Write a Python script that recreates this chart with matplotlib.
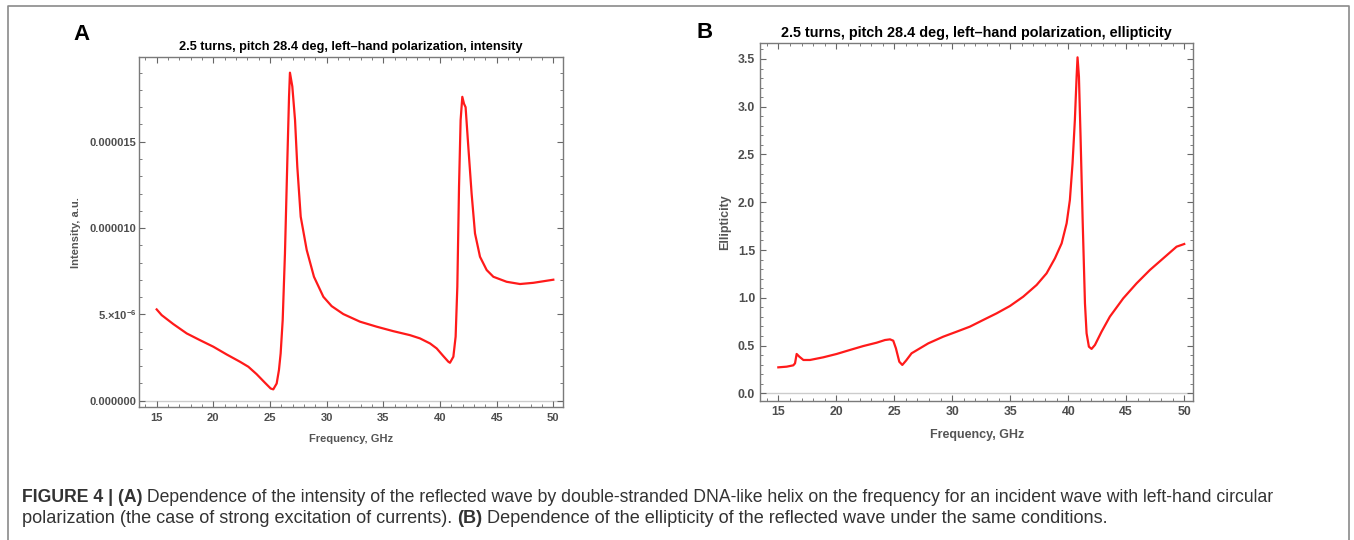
import matplotlib
matplotlib.use('Agg')
import matplotlib.pyplot as plt
from matplotlib.ticker import MultipleLocator, FixedLocator, FixedFormatter
from matplotlib.text import Annotation
from matplotlib.lines import Line2D

plt.rcParams['font.family'] = ['Liberation Sans', 'DejaVu Sans']
plt.rcParams['font.weight'] = 'bold'
plt.rcParams['axes.titleweight'] = 'bold'
plt.rcParams['axes.labelweight'] = 'bold'
plt.rcParams['mathtext.fontset'] = 'custom'
plt.rcParams['mathtext.rm'] = 'Liberation Sans:bold'
plt.rcParams['mathtext.default'] = 'rm'

# Panel A: intensity (units of 1e-6)
freq_a = [15.0, 15.44, 16.47, 17.65, 18.82, 20.0, 21.18, 22.35, 23.09, 23.82,
          24.56, 25.06, 25.29, 25.59, 25.79, 25.94, 26.12, 26.32, 26.53, 26.68,
          26.76, 26.97, 27.21, 27.41, 27.71, 28.24, 28.88, 29.71, 30.44, 31.47,
          32.94, 34.41, 35.88, 37.35, 38.24, 39.12, 39.71, 40.29, 40.74, 40.88,
          41.18, 41.38, 41.53, 41.68, 41.82, 41.97, 42.12, 42.26, 42.5, 42.79,
          43.09, 43.53, 44.12, 44.71, 45.88, 47.06, 48.24, 49.41, 50.0]
intensity_e6 = [5.29, 4.96, 4.44, 3.90, 3.51, 3.13, 2.68, 2.26, 1.97, 1.54,
                1.04, 0.71, 0.66, 1.00, 1.78, 2.74, 4.67, 8.53, 13.9, 17.6,
                19.0, 18.2, 16.25, 13.55, 10.66, 8.73, 7.18, 6.02, 5.48, 5.02,
                4.58, 4.29, 4.03, 3.80, 3.61, 3.32, 3.03, 2.59, 2.26, 2.20,
                2.55, 3.71, 6.60, 12.4, 16.25, 17.6, 17.2, 17.0, 14.7, 12.0,
                9.69, 8.34, 7.57, 7.18, 6.89, 6.76, 6.83, 6.95, 7.01]

# Panel B: ellipticity
freq_b = [15.0, 15.72, 16.29, 16.44, 16.58, 16.81, 17.16, 17.73, 18.88, 20.03,
          21.18, 22.33, 23.48, 24.2, 24.63, 24.91, 25.14, 25.43, 25.69, 26.01,
          26.49, 27.21, 27.93, 29.22, 30.37, 31.52, 32.67, 33.82, 34.97, 36.12,
          37.27, 38.13, 38.85, 39.43, 39.86, 40.14, 40.37, 40.57, 40.72, 40.80,
          40.92, 41.06, 41.24, 41.44, 41.58, 41.78, 42.01, 42.30, 42.87, 43.59,
          44.74, 45.89, 47.04, 48.19, 49.34, 50.0]
ellipticity = [0.272, 0.279, 0.293, 0.314, 0.412, 0.384, 0.349, 0.349, 0.377, 0.412,
               0.454, 0.495, 0.530, 0.558, 0.565, 0.551, 0.471, 0.331, 0.297, 0.342,
               0.419, 0.471, 0.523, 0.593, 0.645, 0.698, 0.768, 0.837, 0.914, 1.012,
               1.134, 1.256, 1.413, 1.570, 1.780, 2.024, 2.408, 2.861, 3.315, 3.517,
               3.315, 2.687, 1.814, 0.942, 0.628, 0.488, 0.465, 0.506, 0.645, 0.803,
               0.994, 1.151, 1.291, 1.413, 1.535, 1.563]

xticks = [15, 20, 25, 30, 35, 40, 45, 50]
yticks_a = [0, 5e-6, 10e-6, 15e-6]
ytick_labels_a = ['0.000000', '5.×10$^{-6}$', '0.000010', '0.000015']
yticks_b = [0.0, 0.5, 1.0, 1.5, 2.0, 2.5, 3.0, 3.5]

title_a = '2.5 turns, pitch 28.4 deg, left\u2013hand polarization, intensity'
title_b = '2.5 turns, pitch 28.4 deg, left\u2013hand polarization, ellipticity'

fig = plt.figure(figsize=(13.54, 5.40), dpi=100)
ax_a = fig.add_axes([0.1029, 0.2457, 0.3127, 0.6482])
ax_b = fig.add_axes([0.5613, 0.2580, 0.3200, 0.6629])


def style(ax, fs):
    for s in ax.spines.values():
        s.set_color('#7a7a7a')
        s.set_linewidth(1.0)
    ax.tick_params(which='both', direction='in', top=True, right=True,
                   colors='#666666', labelcolor='#4d4d4d', labelsize=fs)
    ax.tick_params(which='major', length=4.5, width=0.8)
    ax.tick_params(which='minor', length=2.5, width=0.6)
    ax.xaxis.set_minor_locator(MultipleLocator(1))


# Panel A
ax_a.plot(freq_a, [v * 1e-6 for v in intensity_e6], color='#ff1a1a', lw=1.6, zorder=3)
ax_a.axhline(0, color='#cccccc', lw=1, zorder=1)
ax_a.set_xlim(13.47, 50.83)
ax_a.set_ylim(-0.38e-6, 19.89e-6)
ax_a.set_xticks(xticks)
ax_a.yaxis.set_major_locator(FixedLocator(yticks_a))
ax_a.yaxis.set_major_formatter(FixedFormatter(ytick_labels_a))
ax_a.yaxis.set_minor_locator(MultipleLocator(1e-6))
style(ax_a, 8.0)
ax_a.tick_params(axis='x', pad=4)
ax_a.tick_params(axis='y', pad=2)
ax_a.set_title(title_a, fontsize=9.2, color='black', pad=5)
ax_a.set_xlabel('Frequency, GHz', fontsize=8, color='#555555', labelpad=8)
ax_a.set_ylabel('Intensity, a.u.', fontsize=8, color='#555555', labelpad=6)

# Panel B
ax_b.plot(freq_b, ellipticity, color='#ff1a1a', lw=1.6, zorder=3)
ax_b.axhline(0, color='#cccccc', lw=1, zorder=1)
ax_b.set_xlim(13.42, 50.78)
ax_b.set_ylim(-0.077, 3.67)
ax_b.set_xticks(xticks)
ax_b.set_yticks(yticks_b)
ax_b.set_yticklabels([f'{v:.1f}' for v in yticks_b])
ax_b.yaxis.set_minor_locator(MultipleLocator(0.1))
style(ax_b, 8.8)
ax_b.tick_params(axis='x', pad=4)
ax_b.tick_params(axis='y', pad=3.5)
ax_b.set_title(title_b, fontsize=10.4, color='black', pad=4)
ax_b.set_xlabel('Frequency, GHz', fontsize=9, color='#555555', labelpad=8)
ax_b.set_ylabel('Ellipticity', fontsize=9, color='#555555', labelpad=5)

# panel letters
fig.text(73 / 1354, 1 - 35 / 540, 'A', fontsize=16, va='center', color='black')
fig.text(697 / 1354, 1 - 32 / 540, 'B', fontsize=16, va='center', color='black')

# frame around figure
fig.add_artist(Line2D([8 / 1354, 8 / 1354, 1349 / 1354, 1349 / 1354],
                      [0, 1 - 6 / 540, 1 - 6 / 540, 0],
                      color='#8a8a8a', lw=1.2, transform=fig.transFigure))


# caption, bold and normal pieces chained together
def caption_line(y, size, pieces):
    prev = None
    for txt, w in pieces:
        if prev is None:
            prev = fig.text(22 / 1354, y, txt, fontsize=size, weight=w,
                            color='#333333', va='baseline')
        else:
            a = Annotation(txt, xy=(1, 0), xycoords=prev, va='bottom', ha='left',
                           fontsize=size, weight=w, color='#333333')
            fig.add_artist(a)
            prev = a


caption_line(1 - 502 / 540, 12.7, [
    ('FIGURE 4 | (A)', 'bold'),
    (' Dependence of the intensity of the reflected wave by double-stranded DNA-like helix '
     'on the frequency for an incident wave with left-hand circular', 'normal')])
caption_line(1 - 523 / 540, 13.1, [
    ('polarization (the case of strong excitation of currents). ', 'normal'),
    ('(B)', 'bold'),
    (' Dependence of the ellipticity of the reflected wave under the same conditions.', 'normal')])

fig.savefig('out.png', dpi=100)
